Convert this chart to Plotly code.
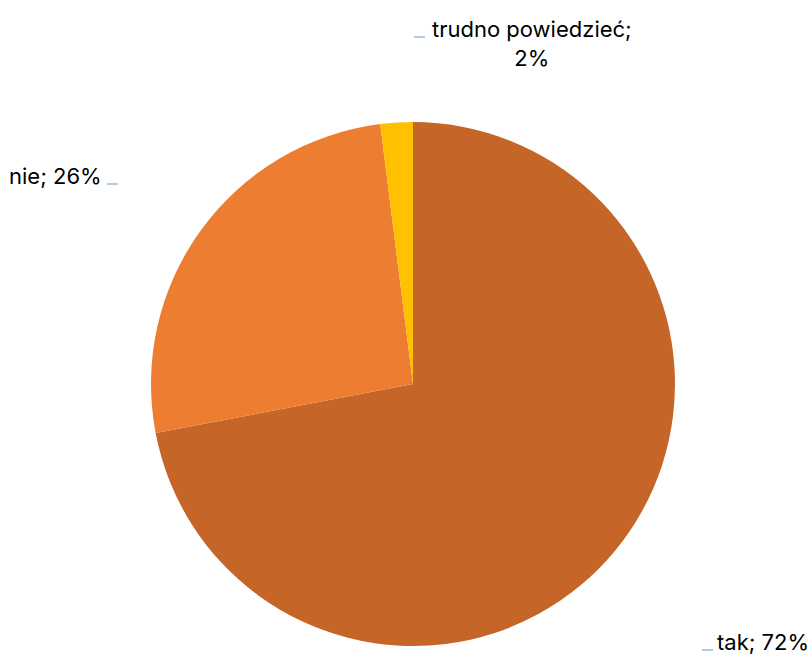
import plotly.graph_objects as go

labels = ["tak", "nie", "trudno powiedzieć"]
values = [72, 26, 2]
colors = ["#C56628", "#ED7D31", "#FFC000"]

W, H = 809, 654
cx, cy, r = 413, 384, 262

fig = go.Figure(go.Pie(
    labels=labels,
    values=values,
    sort=False,
    direction="clockwise",
    rotation=0,
    marker=dict(colors=colors, line=dict(width=0)),
    textinfo="none",
    hoverinfo="label+percent",
    domain=dict(x=[(cx - r) / W, (cx + r) / W], y=[1 - (cy + r) / H, 1 - (cy - r) / H]),
))

def px(x):
    return x / W

def py(y):
    return 1 - y / H

font = dict(family="Inter, Roboto, sans-serif", size=22, color="#000000")

# outside data labels: (text, x, y, anchor)
label_pos = [
    (f"{labels[2]};<br>{values[2]}%", 532, 43, "center"),
    (f"{labels[1]}; {values[1]}%", 104, 176, "right"),
    (f"{labels[0]}; {values[0]}%", 715, 642, "left"),
]
for text, x, y, anchor in label_pos:
    fig.add_annotation(x=px(x), y=py(y), xref="paper", yref="paper", text=text,
                       showarrow=False, xanchor=anchor, yanchor="middle",
                       align="center", font=font)

# short leader marks next to the labels
leaders = [(414, 425, 37), (107, 118, 184), (702, 713, 650)]
for x0, x1, y in leaders:
    fig.add_shape(type="line", xref="paper", yref="paper",
                  x0=px(x0), x1=px(x1), y0=py(y), y1=py(y),
                  line=dict(color="#5B9BD5", width=1))

fig.update_layout(width=W, height=H, margin=dict(l=0, r=0, t=0, b=0),
                  showlegend=False, paper_bgcolor="white", plot_bgcolor="white")

fig.write_html("out.html")
